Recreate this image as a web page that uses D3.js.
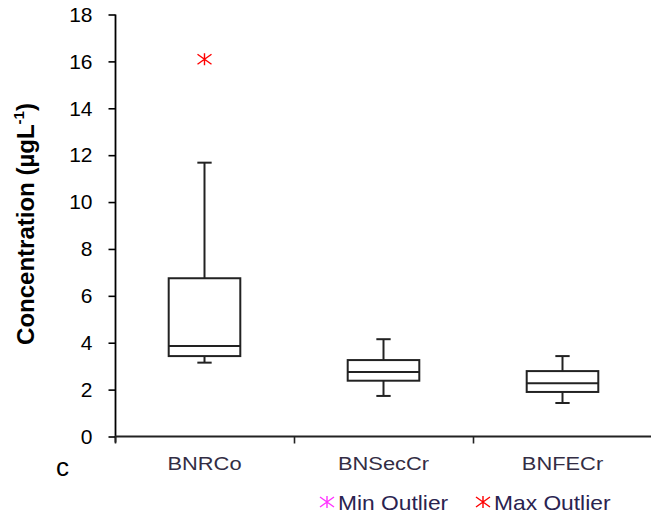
<!DOCTYPE html>
<html>
<head>
<meta charset="utf-8">
<script src="https://cdn.jsdelivr.net/npm/d3@7"></script>
<style>
  html, body { margin: 0; padding: 0; background: #fff; }
  svg { display: block; font-family: "Liberation Sans", Arial, sans-serif; }
</style>
</head>
<body>
<svg id="chart" width="651" height="516"></svg>
<script>
// ---- data ----
const categories  = ["BNRCo", "BNSecCr", "BNFECr"];
const minValues    = [3.15, 1.73, 1.43];
const q1Values     = [3.43, 2.38, 1.90];
const medianValues = [3.86, 2.75, 2.27];
const q3Values     = [6.75, 3.26, 2.79];
const maxValues    = [11.68, 4.15, 3.43];
const maxOutliers  = [16.09, null, null];
const minOutliers  = [null, null, null];
const yTicks = [0, 2, 4, 6, 8, 10, 12, 14, 16, 18];
const legendLabels = ["Min Outlier", "Max Outlier"];
const legendColors = ["#ff33ff", "#ff0000"];

const svg = d3.select("#chart");
const x = d3.scaleBand().domain(categories).range([115, 652]).padding(0);
const y = d3.scaleLinear().domain([0, 18]).range([436.5, 14.5]);

// y axis
const yAxis = svg.append("g")
  .attr("transform", "translate(115.5,0)")
  .call(d3.axisLeft(y).tickValues(yTicks).tickSize(7).tickSizeOuter(0).tickPadding(16));
yAxis.select(".domain").remove();
yAxis.selectAll(".tick line").attr("stroke", "#000").attr("stroke-width", 1.6);
yAxis.selectAll(".tick text").attr("font-size", 21).attr("fill", "#000")
  .attr("font-family", "Liberation Sans, Arial, sans-serif");
svg.append("line").attr("x1", 115.5).attr("x2", 115.5)
  .attr("y1", y(18)).attr("y2", y(0) + 6)
  .attr("stroke", "#000").attr("stroke-width", 1.8);

// x axis
svg.append("line").attr("x1", 115).attr("x2", 651)
  .attr("y1", y(0)).attr("y2", y(0))
  .attr("stroke", "#222").attr("stroke-width", 1.8);
const bounds = categories.map(c => x(c)).concat([x.range()[1]]);
svg.selectAll(".xtick").data(bounds).enter().append("line")
  .attr("x1", d => d + 0.5).attr("x2", d => d + 0.5)
  .attr("y1", y(0)).attr("y2", y(0) + 7)
  .attr("stroke", "#222").attr("stroke-width", 1.6);
svg.selectAll(".xlabel").data(categories).enter().append("text")
  .attr("transform", d => `translate(${x(d) + x.bandwidth() / 2},470) scale(1.15,1)`)
  .attr("text-anchor", "middle")
  .attr("font-size", 19)
  .attr("fill", "#332d44")
  .text(d => d);

// y title
const yt = svg.append("text")
  .attr("transform", "translate(34,224) rotate(-90)")
  .attr("text-anchor", "middle")
  .attr("font-size", 24)
  .attr("font-weight", "bold")
  .attr("fill", "#000");
yt.append("tspan").text("Concentration (µgL");
yt.append("tspan").attr("font-size", 15).attr("dy", -10).text("-1");
yt.append("tspan").attr("dy", 10).text(")");

// panel letter
svg.append("text").attr("x", 56).attr("y", 476).attr("font-size", 26).attr("fill", "#000").text("c");

// boxes
const bw = x.bandwidth() * 0.4;
const capW = x.bandwidth() * 0.08;
const boxes = categories.map((c, i) => ({
  c, min: minValues[i], q1: q1Values[i], med: medianValues[i], q3: q3Values[i], max: maxValues[i],
  maxOut: maxOutliers[i], minOut: minOutliers[i]
}));
const g = svg.selectAll(".box").data(boxes).enter().append("g")
  .attr("transform", d => `translate(${x(d.c) + x.bandwidth() / 2},0)`);
const stroke = "#222", sw = 2;
// whiskers
g.append("line").attr("x1", 0).attr("x2", 0).attr("y1", d => y(d.q3)).attr("y2", d => y(d.max))
  .attr("stroke", stroke).attr("stroke-width", sw);
g.append("line").attr("x1", 0).attr("x2", 0).attr("y1", d => y(d.q1)).attr("y2", d => y(d.min))
  .attr("stroke", stroke).attr("stroke-width", sw);
g.append("line").attr("x1", -capW / 2).attr("x2", capW / 2).attr("y1", d => y(d.max)).attr("y2", d => y(d.max))
  .attr("stroke", stroke).attr("stroke-width", sw);
g.append("line").attr("x1", -capW / 2).attr("x2", capW / 2).attr("y1", d => y(d.min)).attr("y2", d => y(d.min))
  .attr("stroke", stroke).attr("stroke-width", sw);
// box
g.append("rect").attr("x", -bw / 2).attr("width", bw)
  .attr("y", d => y(d.q3)).attr("height", d => y(d.q1) - y(d.q3))
  .attr("fill", "#fff").attr("stroke", stroke).attr("stroke-width", sw);
g.append("line").attr("x1", -bw / 2).attr("x2", bw / 2)
  .attr("y1", d => y(d.med)).attr("y2", d => y(d.med))
  .attr("stroke", stroke).attr("stroke-width", sw);

// star marker
function star(sel, color) {
  sel.append("path")
    .attr("d", "M-7,-5L7,5M-7,5L7,-5M0,-6L0,6")
    .attr("stroke", color).attr("stroke-width", 1.4).attr("fill", "none");
}
g.filter(d => d.maxOut != null).append("g")
  .attr("transform", d => `translate(0,${y(d.maxOut)})`)
  .call(star, legendColors[1]);
g.filter(d => d.minOut != null).append("g")
  .attr("transform", d => `translate(0,${y(d.minOut)})`)
  .call(star, legendColors[0]);

// legend
const legendX = [327, 483];
legendLabels.forEach((lab, i) => {
  const lg = svg.append("g").attr("transform", `translate(${legendX[i]},502)`);
  star(lg, legendColors[i]);
  lg.append("text").attr("transform", "translate(11,8) scale(1.14,1)")
    .attr("font-size", 20).attr("fill", "#2a2350").text(lab);
});
</script>
</body>
</html>
